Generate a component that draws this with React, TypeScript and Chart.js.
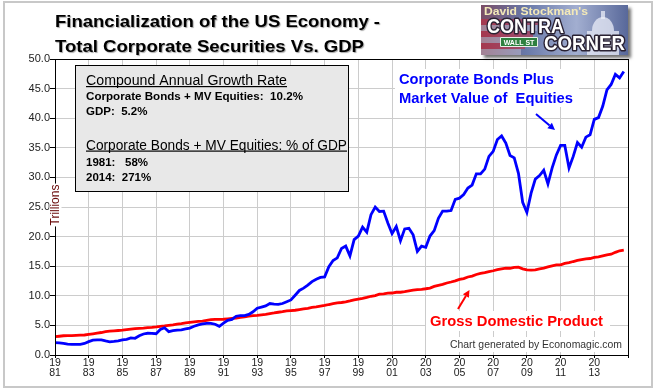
import React, { useEffect, useRef } from 'react';
import { Chart, registerables } from 'chart.js';

Chart.register(...registerables);

// ---------------- DATA ----------------
const START_YEAR = 1981; // first quarter 1981Q1, quarterly observations
const QUARTERS_PER_YEAR = 4;

// Corporate Bonds + Market Value of Equities (trillions), quarterly 1981Q1..2014Q4
const corpBondsPlusEquities = [
  2.08, 2.05, 1.95, 1.85,   // 1981
  1.80, 1.80, 1.80, 1.95,   // 1982
  2.25, 2.50, 2.55, 2.55,   // 1983
  2.37, 2.22, 2.30, 2.40,   // 1984
  2.54, 2.65, 2.90, 2.82,   // 1985
  3.25, 3.55, 3.67, 3.65,   // 1986
  3.60, 4.30, 4.60, 3.95,   // 1987
  4.10, 4.20, 4.25, 4.40,   // 1988
  4.55, 4.85, 5.10, 5.25,   // 1989
  5.35, 5.35, 5.20, 4.85,   // 1990
  5.40, 5.85, 6.00, 6.55,   // 1991
  6.65, 6.65, 6.85, 7.30,   // 1992
  7.90, 8.10, 8.30, 8.70,   // 1993
  8.60, 8.55, 8.70, 9.00,   // 1994
  9.30, 10.10, 10.90, 11.30, // 1995
  11.80, 12.40, 12.80, 13.10, // 1996
  13.20, 14.90, 15.95, 16.40, // 1997
  18.00, 18.40, 16.75, 19.50, // 1998
  20.10, 21.60, 20.75, 23.70, // 1999
  25.00, 24.25, 24.30, 22.30, // 2000
  20.50, 21.70, 19.30, 21.30, // 2001
  21.40, 20.30, 17.50, 18.40, // 2002
  18.20, 20.10, 21.00, 23.10, // 2003
  24.30, 24.30, 24.40, 26.30, // 2004
  26.50, 27.10, 28.20, 28.70, // 2005
  30.60, 30.60, 31.40, 33.55, // 2006
  34.40, 36.40, 37.00, 35.80, // 2007
  33.70, 33.30, 30.70, 25.80, // 2008
  24.10, 27.35, 29.70, 30.30, // 2009
  31.20, 28.90, 31.60, 33.80, // 2010
  35.40, 35.40, 31.60, 33.55, // 2011
  35.90, 35.10, 36.80, 37.20, // 2012
  39.80, 40.10, 42.00, 44.80, // 2013
  45.70, 47.40, 46.80, 47.90, // 2014
];

// Gross Domestic Product (trillions), quarterly 1981Q1..2014Q4
const grossDomesticProduct = [
  3.10, 3.17, 3.25, 3.26,   // 1981
  3.27, 3.32, 3.35, 3.38,   // 1982
  3.48, 3.58, 3.69, 3.80,   // 1983
  3.93, 4.03, 4.08, 4.14,   // 1984
  4.20, 4.29, 4.38, 4.44,   // 1985
  4.51, 4.55, 4.62, 4.67,   // 1986
  4.74, 4.83, 4.91, 5.02,   // 1987
  5.09, 5.21, 5.30, 5.41,   // 1988
  5.50, 5.60, 5.68, 5.73,   // 1989
  5.85, 5.96, 6.02, 6.01,   // 1990
  6.04, 6.12, 6.19, 6.25,   // 1991
  6.36, 6.45, 6.55, 6.66,   // 1992
  6.71, 6.79, 6.87, 7.00,   // 1993
  7.10, 7.22, 7.31, 7.45,   // 1994
  7.50, 7.56, 7.68, 7.78,   // 1995
  7.89, 8.03, 8.13, 8.25,   // 1996
  8.37, 8.53, 8.67, 8.79,   // 1997
  8.87, 8.98, 9.13, 9.30,   // 1998
  9.43, 9.55, 9.72, 9.92,   // 1999
  10.03, 10.27, 10.34, 10.45, // 2000
  10.47, 10.60, 10.60, 10.70, // 2001
  10.83, 10.94, 11.04, 11.09, // 2002
  11.19, 11.31, 11.58, 11.77, // 2003
  11.92, 12.16, 12.33, 12.52, // 2004
  12.76, 12.91, 13.18, 13.33, // 2005
  13.60, 13.79, 13.91, 14.07, // 2006
  14.23, 14.41, 14.56, 14.69, // 2007
  14.65, 14.80, 14.84, 14.55, // 2008
  14.38, 14.34, 14.38, 14.54, // 2009
  14.68, 14.89, 15.06, 15.23, // 2010
  15.24, 15.46, 15.59, 15.79, // 2011
  15.97, 16.12, 16.25, 16.30, // 2012
  16.48, 16.57, 16.75, 16.91, // 2013
  17.02, 17.34, 17.60, 17.70, // 2014
];

const xTickYears = [1981, 1983, 1985, 1987, 1989, 1991, 1993, 1995, 1997, 1999, 2001, 2003, 2005, 2007, 2009, 2011, 2013, 2015];
const X_MIN = 1981;
const X_MAX = 2015;
const Y_MIN = 0;
const Y_MAX = 50;
const Y_STEP = 5;

const titleLines = ['Financialization of the US Economy -', 'Total Corporate Securities Vs. GDP'];
const boxHeading1 = 'Compound Annual Growth Rate';
const boxLines1 = ['Corporate Bonds + MV Equities:  10.2%', 'GDP:  5.2%'];
const boxHeading2 = 'Corporate Bonds + MV Equities: % of GDP';
const boxLines2 = ['1981:   58%', '2014:  271%'];
const blueNote = ['Corporate Bonds Plus', 'Market Value of  Equities'];
const redNote = 'Gross Domestic Product';
const creditText = 'Chart generated by Economagic.com';
const yAxisTitle = 'Trillions';

// ---------------- HELPERS ----------------
const FONT = "'Liberation Sans', Arial, Helvetica, sans-serif";

const toPoints = (vals: number[]) =>
  vals.map((v, i) => ({ x: START_YEAR + i / QUARTERS_PER_YEAR, y: v }));

function scaledText(ctx: CanvasRenderingContext2D, text: string, x: number, y: number, font: string, color: string, targetW?: number) {
  ctx.save();
  ctx.font = font;
  ctx.fillStyle = color;
  ctx.textBaseline = 'alphabetic';
  ctx.textAlign = 'left';
  const w = ctx.measureText(text).width;
  ctx.translate(x, y);
  if (targetW) ctx.scale(targetW / w, 1);
  ctx.fillText(text, 0, 0);
  ctx.restore();
}

function arrow(ctx: CanvasRenderingContext2D, x1: number, y1: number, x2: number, y2: number, color: string, lw: number) {
  ctx.save();
  ctx.strokeStyle = color;
  ctx.fillStyle = color;
  ctx.lineWidth = lw;
  const ang = Math.atan2(y2 - y1, x2 - x1);
  const hl = 7;
  const hw = 3.5;
  const bx = x2 - hl * Math.cos(ang);
  const by = y2 - hl * Math.sin(ang);
  ctx.beginPath();
  ctx.moveTo(x1, y1);
  ctx.lineTo(bx, by);
  ctx.stroke();
  ctx.beginPath();
  ctx.moveTo(x2, y2);
  ctx.lineTo(bx + hw * Math.sin(ang), by - hw * Math.cos(ang));
  ctx.lineTo(bx - hw * Math.sin(ang), by + hw * Math.cos(ang));
  ctx.closePath();
  ctx.fill();
  ctx.restore();
}

function underlinedText(ctx: CanvasRenderingContext2D, text: string, x: number, y: number, font: string, targetW: number) {
  scaledText(ctx, text, x, y, font, '#000', targetW);
  ctx.save();
  ctx.fillStyle = '#000';
  ctx.fillRect(x, y + 1, targetW, 1.2);
  ctx.restore();
}

function drawLogo(ctx: CanvasRenderingContext2D) {
  const x = 481, y = 5, w = 147, h = 50;
  ctx.save();
  ctx.shadowColor = 'rgba(0,0,0,0.55)';
  ctx.shadowBlur = 3;
  ctx.shadowOffsetX = 3;
  ctx.shadowOffsetY = 3;
  const g = ctx.createLinearGradient(x, 0, x + w, 0);
  g.addColorStop(0, '#7a4c66');
  g.addColorStop(0.3, '#6878a8');
  g.addColorStop(0.65, '#a2aed0');
  g.addColorStop(1, '#58689a');
  ctx.fillStyle = g;
  ctx.fillRect(x, y, w, h);
  ctx.restore();

  ctx.save();
  ctx.beginPath();
  ctx.rect(x, y, w, h);
  ctx.clip();
  for (let i = 0; i < 6; i++) {
    ctx.fillStyle = i % 2 === 0 ? 'rgba(200,40,60,0.55)' : 'rgba(240,230,235,0.35)';
    ctx.fillRect(x, y + 14 + i * 6, 60 - i * 4, 6);
  }
  ctx.fillStyle = 'rgba(235,238,248,0.75)';
  ctx.beginPath();
  ctx.ellipse(x + 122, y + 26, 11, 14, 0, Math.PI, 0);
  ctx.fill();
  ctx.fillRect(x + 106, y + 26, 32, 24);
  ctx.fillRect(x + 120, y + 6, 4, 8);
  scaledText(ctx, "David Stockman's", x + 3, y + 10, `bold 11px ${FONT}`, '#f3e9b8', 104);
  ctx.lineJoin = 'round';
  ctx.font = `bold 20px ${FONT}`;
  ctx.save();
  ctx.translate(x + 6, y + 28);
  ctx.scale(77 / ctx.measureText('CONTRA').width, 1);
  ctx.lineWidth = 3;
  ctx.strokeStyle = '#2a2233';
  ctx.strokeText('CONTRA', 0, 0);
  ctx.fillStyle = '#ffffff';
  ctx.fillText('CONTRA', 0, 0);
  ctx.restore();
  ctx.save();
  ctx.translate(x + 63, y + 45);
  ctx.scale(81 / ctx.measureText('CORNER').width, 1);
  ctx.lineWidth = 3;
  ctx.strokeStyle = '#2a2233';
  ctx.strokeText('CORNER', 0, 0);
  ctx.fillStyle = '#ffffff';
  ctx.fillText('CORNER', 0, 0);
  ctx.restore();
  ctx.fillStyle = '#2e8040';
  ctx.fillRect(x + 19, y + 32, 38, 10);
  ctx.strokeStyle = '#e8f0e8';
  ctx.lineWidth = 1;
  ctx.strokeRect(x + 19.5, y + 32.5, 37, 9);
  ctx.font = `bold 7px ${FONT}`;
  ctx.fillStyle = '#ffffff';
  ctx.textAlign = 'center';
  ctx.fillText('WALL ST', x + 38, y + 40);
  ctx.restore();
}

const decorPlugin = {
  id: 'decor',
  beforeDraw(chart: any) {
    const ctx: CanvasRenderingContext2D = chart.ctx;
    ctx.save();
    ctx.fillStyle = '#ffffff';
    ctx.fillRect(0, 0, chart.width, chart.height);
    ctx.strokeStyle = '#c8c8c8';
    ctx.lineWidth = 2;
    ctx.strokeRect(4, 2, 648, 385);
    ctx.restore();
  },
  afterDraw(chart: any) {
    const ctx: CanvasRenderingContext2D = chart.ctx;
    const a = chart.chartArea;
    ctx.save();
    ctx.strokeStyle = '#000';
    ctx.lineWidth = 1;
    ctx.strokeRect(Math.round(a.left) + 0.5, Math.round(a.top) + 0.5, Math.round(a.right - a.left), Math.round(a.bottom - a.top));

    ctx.save();
    ctx.shadowColor = 'rgba(0,0,0,0.35)';
    ctx.shadowOffsetX = 1;
    ctx.shadowOffsetY = 1;
    ctx.shadowBlur = 1;
    scaledText(ctx, titleLines[0], 55, 27, `bold 16.5px ${FONT}`, '#000', 325);
    scaledText(ctx, titleLines[1], 55, 52, `bold 16.5px ${FONT}`, '#000', 309);
    ctx.restore();

    drawLogo(ctx);

    // info box
    ctx.fillStyle = '#e8e8e8';
    ctx.fillRect(76, 66, 272, 126);
    ctx.strokeStyle = '#000';
    ctx.lineWidth = 1;
    ctx.strokeRect(75.5, 65.5, 273, 126);
    ctx.textAlign = 'left';
    ctx.textBaseline = 'alphabetic';
    underlinedText(ctx, boxHeading1, 86, 85, `14px ${FONT}`, 201);
    scaledText(ctx, boxLines1[0], 86, 100, `bold 11.5px ${FONT}`, '#000', 217);
    scaledText(ctx, boxLines1[1], 86, 115, `bold 11.5px ${FONT}`, '#000');
    underlinedText(ctx, boxHeading2, 86, 149.5, `14px ${FONT}`, 261);
    scaledText(ctx, boxLines2[0], 86, 166, `bold 11.5px ${FONT}`, '#000');
    scaledText(ctx, boxLines2[1], 86, 181, `bold 11.5px ${FONT}`, '#000');

    // blue annotation
    ctx.fillStyle = '#ffffff';
    ctx.fillRect(395, 69, 184, 38);
    scaledText(ctx, blueNote[0], 399, 83.5, `bold 15px ${FONT}`, '#0000ff', 155);
    scaledText(ctx, blueNote[1], 399, 103, `bold 15px ${FONT}`, '#0000ff', 174);
    arrow(ctx, 536, 114, 555, 130, '#0000ff', 2);

    // red annotation
    ctx.fillStyle = '#ffffff';
    ctx.fillRect(426, 311, 184, 20);
    scaledText(ctx, redNote, 430, 325.5, `bold 15px ${FONT}`, '#ff0000', 173);
    arrow(ctx, 458, 309, 469.5, 290, '#ff0000', 2);

    // credit
    ctx.fillStyle = '#ffffff';
    ctx.fillRect(446, 337, 180, 15);
    scaledText(ctx, creditText, 450, 347.5, `10.5px ${FONT}`, '#333333', 172);

    // y axis title
    ctx.save();
    ctx.translate(55.5, 205);
    ctx.rotate(-Math.PI / 2);
    ctx.font = `12px ${FONT}`;
    const tw = ctx.measureText(yAxisTitle).width;
    ctx.fillStyle = '#ffffff';
    ctx.fillRect(-tw / 2 - 1, -6, tw + 2, 12);
    ctx.fillStyle = '#6a0a0a';
    ctx.textAlign = 'center';
    ctx.textBaseline = 'middle';
    ctx.fillText(yAxisTitle, 0, 0);
    ctx.restore();

    ctx.restore();
  },
};

export default function App() {
  const ref = useRef<HTMLCanvasElement>(null);
  useEffect(() => {
    if (!ref.current) return;
    const chart = new Chart(ref.current, {
      type: 'line',
      data: {
        datasets: [
          {
            label: 'Corporate Bonds Plus Market Value of Equities',
            data: toPoints(corpBondsPlusEquities),
            borderColor: '#0000ff',
            borderWidth: 2.8,
            pointRadius: 0,
            tension: 0,
            fill: false,
          },
          {
            label: 'Gross Domestic Product',
            data: toPoints(grossDomesticProduct),
            borderColor: '#ff0000',
            borderWidth: 2.8,
            pointRadius: 0,
            tension: 0,
            fill: false,
          },
        ],
      },
      options: {
        responsive: false,
        animation: false,
        devicePixelRatio: 1,
        layout: { padding: { left: 0, top: 59, right: 29, bottom: 0 } },
        plugins: { legend: { display: false }, tooltip: { enabled: false }, title: { display: false } },
        scales: {
          x: {
            type: 'linear',
            min: X_MIN,
            max: X_MAX,
            afterBuildTicks: (scale: any) => {
              scale.ticks = xTickYears.map((v) => ({ value: v }));
            },
            afterFit: (scale: any) => {
              scale.height = 33;
            },
            ticks: {
              autoSkip: false,
              maxRotation: 0,
              minRotation: 0,
              padding: 0,
              color: '#222',
              font: { family: FONT, size: 10.5, lineHeight: 0.95 },
              callback: (v: any) => {
                if (v >= X_MAX) return '';
                const s = String(v);
                return [s.slice(0, 2), s.slice(2)];
              },
            },
            grid: { color: '#cccccc', lineWidth: 1, tickLength: 3, tickColor: '#000' },
            border: { color: '#000', width: 1 },
          },
          y: {
            min: Y_MIN,
            max: Y_MAX,
            afterFit: (scale: any) => {
              scale.width = 55;
            },
            ticks: {
              stepSize: Y_STEP,
              padding: 0,
              color: '#222',
              font: { family: FONT, size: 11 },
              callback: (v: any) => Number(v).toFixed(1),
            },
            grid: { color: '#cccccc', lineWidth: 1, tickLength: 5, tickColor: '#000' },
            border: { color: '#000', width: 1 },
          },
        },
      },
      plugins: [decorPlugin],
    } as any);
    return () => chart.destroy();
  }, []);

  return (
    <div style={{ position: 'absolute', left: 0, top: 0, width: 657, height: 388 }}>
      <canvas ref={ref} width={657} height={388} style={{ display: 'block', width: 657, height: 388 }} />
    </div>
  );
}
